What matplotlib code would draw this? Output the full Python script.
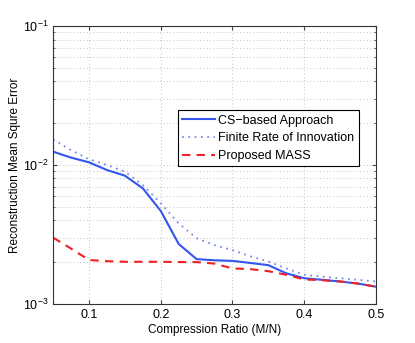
import matplotlib
matplotlib.use("Agg")
import matplotlib.pyplot as plt
from matplotlib.ticker import LogLocator, NullFormatter

plt.rcParams['font.family'] = ['Liberation Sans', 'DejaVu Sans']
plt.rcParams['mathtext.fontset'] = 'custom'
plt.rcParams['mathtext.rm'] = 'Liberation Sans'

ratio = [0.05, 0.075, 0.1, 0.125, 0.15, 0.175, 0.2, 0.225, 0.25, 0.275,
         0.3, 0.325, 0.35, 0.375, 0.4, 0.425, 0.45, 0.475, 0.5]
cs_based = [0.01247, 0.0113, 0.01045, 0.0092, 0.00838, 0.00679, 0.00467, 0.0027,
            0.0021, 0.00206, 0.00204, 0.00197, 0.0019, 0.00166, 0.00153, 0.00149,
            0.00145, 0.0014, 0.00133]
fri = [0.0153, 0.0128, 0.011, 0.01, 0.00895, 0.00718, 0.0053, 0.0038,
       0.00297, 0.00265, 0.00244, 0.0022, 0.00202, 0.0018, 0.00162, 0.00157,
       0.00153, 0.00149, 0.00145]
mass = [0.003, 0.0025, 0.00207, 0.00203, 0.00201, 0.00201, 0.00201, 0.002,
        0.002, 0.00195, 0.0018, 0.00178, 0.00172, 0.00162, 0.0015, 0.00148,
        0.00145, 0.0014, 0.00133]
xticks = [0.1, 0.2, 0.3, 0.4, 0.5]

fig = plt.figure(figsize=(4.15, 3.43), dpi=100)
ax = fig.add_axes([0.128, 0.114, 0.778, 0.810])

ax.plot(ratio, cs_based, color='#3355ee', lw=1.5, ls='-', label='CS\u2212based Approach')
ax.plot(ratio, fri, color='#7788ee', lw=1.3, ls=(0, (1, 2.5)), label='Finite Rate of Innovation')
ax.plot(ratio, mass, color='#ee2222', lw=1.5, ls=(0, (4, 3)), label='Proposed MASS')

ax.set_yscale('log')
ax.set_xlim(0.05, 0.5)
ax.set_ylim(1e-3, 1e-1)
ax.set_xticks(xticks)
ax.set_xticklabels([f'{t:g}' for t in xticks])
ax.yaxis.set_minor_locator(LogLocator(base=10, subs=range(2, 10)))
ax.yaxis.set_minor_formatter(NullFormatter())

ax.grid(True, which='major', color='#b0b0b0', ls=(0, (1, 3)), lw=0.6)
ax.grid(True, which='minor', axis='y', color='#b0b0b0', ls=(0, (1, 3)), lw=0.6)
ax.tick_params(which='both', direction='in', labelsize=9, top=True, right=True, color='#444444')
ax.tick_params(which='major', length=3)
ax.tick_params(which='minor', length=1.5)
for s in ax.spines.values():
    s.set_linewidth(0.8)
    s.set_color('#333333')

ax.set_xlabel('Compression Ratio (M/N)', fontsize=8.5, labelpad=2)
ax.set_ylabel('Reconstruction Mean Squre Error', fontsize=8.5, labelpad=1)

leg = ax.legend(loc='upper right', bbox_to_anchor=(0.947, 0.697), fontsize=9,
                fancybox=False, framealpha=1, edgecolor='black',
                handlelength=2.6, handletextpad=0.3, labelspacing=0.45,
                borderpad=0.35, borderaxespad=0)
leg.get_frame().set_linewidth(0.8)

fig.savefig('out.png', dpi=100)
